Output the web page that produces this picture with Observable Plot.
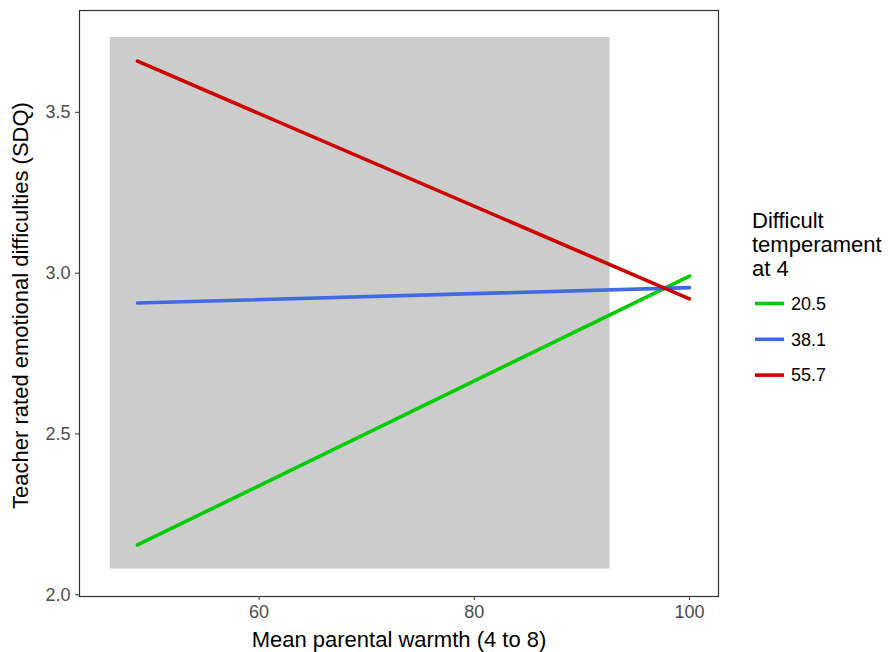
<!DOCTYPE html>
<html>
<head>
<meta charset="utf-8">
<script src="https://cdn.jsdelivr.net/npm/d3@7"></script>
<script src="https://cdn.jsdelivr.net/npm/@observablehq/plot@0.6"></script>
<style>
  html, body { margin: 0; padding: 0; background: #fff; }
  #wrap { position: relative; width: 888px; height: 652px; font-family: "Liberation Sans", Arial, sans-serif; }
  #legend { position: absolute; left: 0; top: 0; pointer-events: none; }
</style>
</head>
<body>
<div id="wrap"></div>
<script>
// Temperament levels (moderator) and their line colours
const levels = ["20.5", "38.1", "55.7"];
const colors = ["#00CD00", "#4169E1", "#CD0000"];

// Warmth endpoints of each fitted line
const warmth = [48.7, 100];
// Predicted emotional difficulties at those endpoints, per level
const sdqLow = [2.155, 2.991];   // 20.5
const sdqMid = [2.907, 2.955];   // 38.1
const sdqHigh = [3.659, 2.920];  // 55.7

// Shaded region of observed data
const bandX = [46.17, 92.62];
const bandY = [2.080, 3.7325];

// Axis ticks
const xTicks = [60, 80, 100];
const yTicks = [2.0, 2.5, 3.0, 3.5];

const seriesValues = [sdqLow, sdqMid, sdqHigh];
const rows = levels.flatMap((lvl, i) =>
  warmth.map((w, j) => ({ level: lvl, warmth: w, sdq: seriesValues[i][j] }))
);

const titleSize = 22;
const textSize = 18;

const chart = Plot.plot({
  width: 888,
  height: 652,
  marginLeft: 79,
  marginRight: 170,
  marginTop: 10,
  marginBottom: 56,
  style: { fontFamily: "Liberation Sans, Arial, sans-serif", fontSize: textSize + "px", background: "#fff" },
  x: { domain: [43.31, 102.70] },
  y: { domain: [1.9947, 3.8166] },
  color: { domain: levels, range: colors },
  marks: [
    Plot.rect([{ x1: bandX[0], x2: bandX[1], y1: bandY[0], y2: bandY[1] }],
      { x1: "x1", x2: "x2", y1: "y1", y2: "y2", fill: "#CCCCCC" }),
    Plot.line(rows, { x: "warmth", y: "sdq", z: "level", stroke: "level", strokeWidth: 3.6 }),
    Plot.frame({ stroke: "#333", strokeWidth: 1.2 }),
    Plot.axisX({ ticks: xTicks, tickSize: 4, tickPadding: 5, fontSize: textSize, fill: "#4D4D4D", stroke: "#333", label: null }),
    Plot.axisY({ ticks: yTicks, tickSize: 4, tickPadding: 5, fontSize: textSize, fill: "#4D4D4D", stroke: "#333", tickFormat: d3.format(".1f"), label: null }),
    Plot.text(["Mean parental warmth (4 to 8)"], {
      frameAnchor: "bottom", lineAnchor: "middle", textAnchor: "middle", dy: 43,
      fontSize: titleSize, fill: "#000", text: d => d
    }),
    Plot.text(["Teacher rated emotional difficulties (SDQ)"], {
      frameAnchor: "left", lineAnchor: "middle", textAnchor: "middle", dx: -59, dy: 2, rotate: -90,
      fontSize: titleSize, fill: "#000", text: d => d
    })
  ]
});

// make sure tick labels use the text size
d3.select(chart).selectAll('g[aria-label$="tick label"] text').style("font-size", textSize + "px");

const wrap = document.getElementById("wrap");
wrap.appendChild(chart);

// Legend for the temperament levels, drawn to the right of the panel
const legend = d3.select(wrap).append("svg")
  .attr("id", "legend")
  .attr("width", 888).attr("height", 652)
  .style("font-family", "Liberation Sans, Arial, sans-serif");

const titleLines = ["Difficult", "temperament", "at 4"];
legend.append("text")
  .attr("x", 752).attr("y", 228)
  .attr("font-size", titleSize).attr("fill", "#000")
  .selectAll("tspan").data(titleLines).join("tspan")
  .attr("x", 752).attr("dy", (d, i) => i === 0 ? 0 : 24)
  .text(d => d);

const item = legend.selectAll("g.item").data(levels).join("g")
  .attr("class", "item")
  .attr("transform", (d, i) => `translate(755, ${303.5 + i * 35.8})`);
item.append("line")
  .attr("x1", 0).attr("x2", 29).attr("y1", 0).attr("y2", 0)
  .attr("stroke", (d, i) => colors[i]).attr("stroke-width", 3.6);
item.append("text")
  .attr("x", 36).attr("y", 0).attr("dy", "0.35em")
  .attr("font-size", textSize).attr("fill", "#000")
  .text(d => d);
</script>
</body>
</html>
